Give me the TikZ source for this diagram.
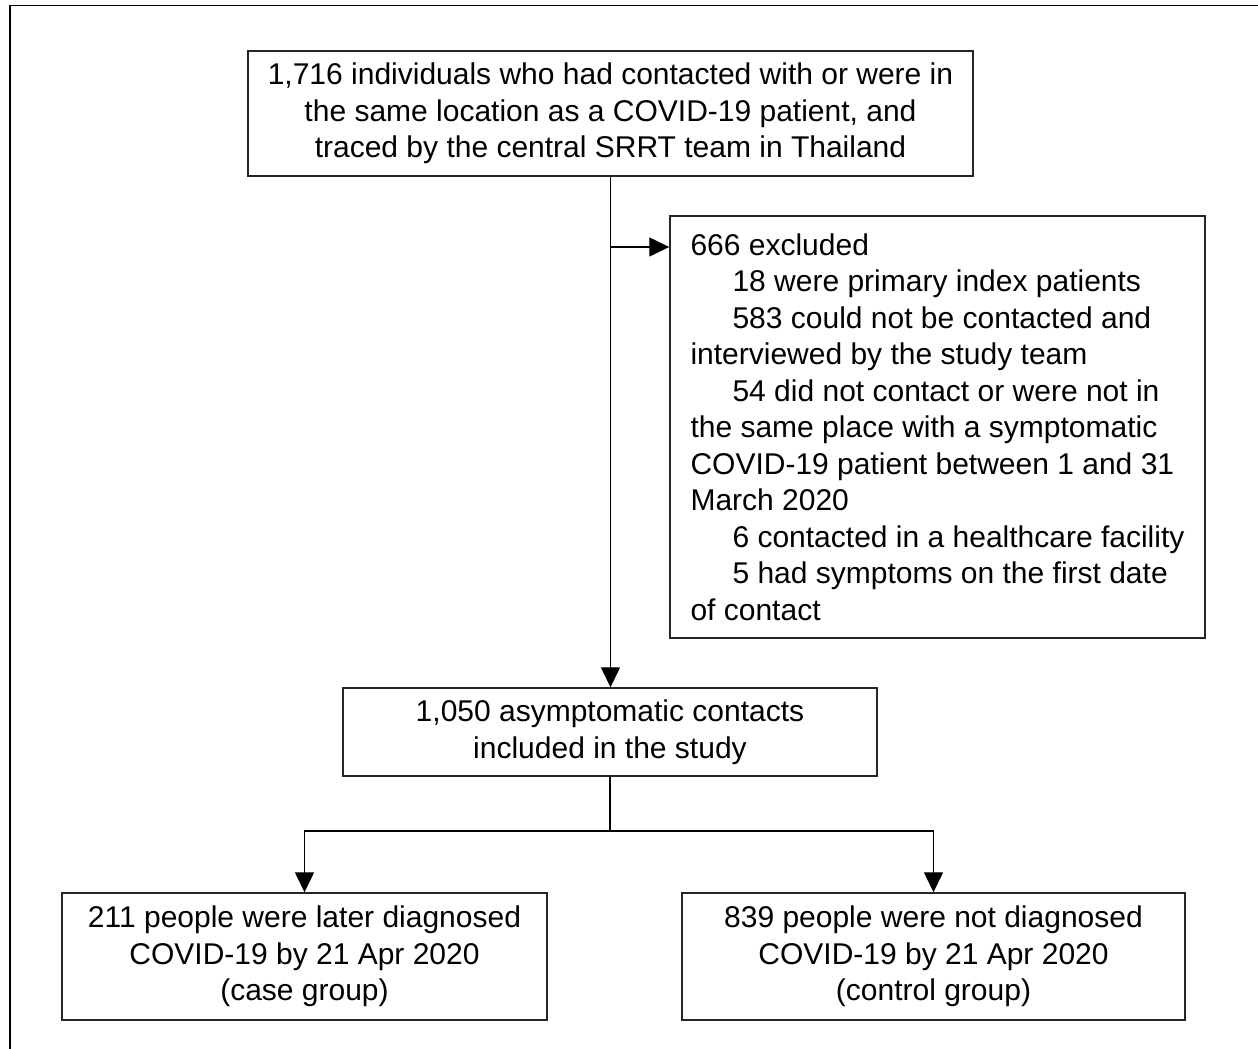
\documentclass[tikz,border=0pt]{standalone}
\usepackage{fontspec}
\setmainfont{Liberation Sans}
\usetikzlibrary{arrows.meta}
\begin{document}
\begin{tikzpicture}[x=1pt,y=-1pt,
  box/.style={draw=black!85,line width=1.4pt,inner sep=0pt,font=\fontsize{30}{36.5}\selectfont},
  arr/.style={line width=1.3pt,-{Triangle[length=20pt,width=19pt]}},
  conn/.style={line width=1.3pt}]
\useasboundingbox (0,0) rectangle (1258,1049);
\draw[line width=1.8pt] (10,1060) -- (10,5.5) -- (1270,5.5);
\node[box,minimum width=725pt,minimum height=125pt,align=center] (top) at (610.5,113.5)
  {1,716 individuals who had contacted with or were in\\the same location as a COVID-19 patient, and\\traced by the central SRRT team in Thailand};
\node[box,minimum width=535pt,minimum height=422pt,align=left] (excl) at (937.5,427)
  {666 excluded\\
   \hspace*{42pt}18 were primary index patients\\
   \hspace*{42pt}583 could not be contacted and\\
   interviewed by the study team\\
   \hspace*{42pt}54 did not contact or were not in\\
   the same place with a symptomatic\\
   COVID-19 patient between 1 and 31\\
   March 2020\\
   \hspace*{42pt}6 contacted in a healthcare facility\\
   \hspace*{42pt}5 had symptoms on the first date\\
   of contact};
\node[box,minimum width=534pt,minimum height=88pt,align=center] (mid) at (610,732)
  {1,050 asymptomatic contacts\\included in the study};
\node[box,minimum width=485pt,minimum height=127pt,align=center] (left) at (304.5,956.5)
  {211 people were later diagnosed\\COVID-19 by 21 Apr 2020\\(case group)};
\node[box,minimum width=503pt,minimum height=127pt,align=center] (right) at (933.5,956.5)
  {839 people were not diagnosed\\COVID-19 by 21 Apr 2020\\(control group)};
\coordinate (br) at (610.5,247);
\coordinate (split) at (610,831);
\draw[arr] (top.south) -- (top.south |- mid.north);
\draw[arr] (br) -- (br -| excl.west);
\draw[conn] (mid.south) -- (split);
\draw[arr] (split) -| (left.north);
\draw[arr] (split) -| (right.north);
\end{tikzpicture}
\end{document}
